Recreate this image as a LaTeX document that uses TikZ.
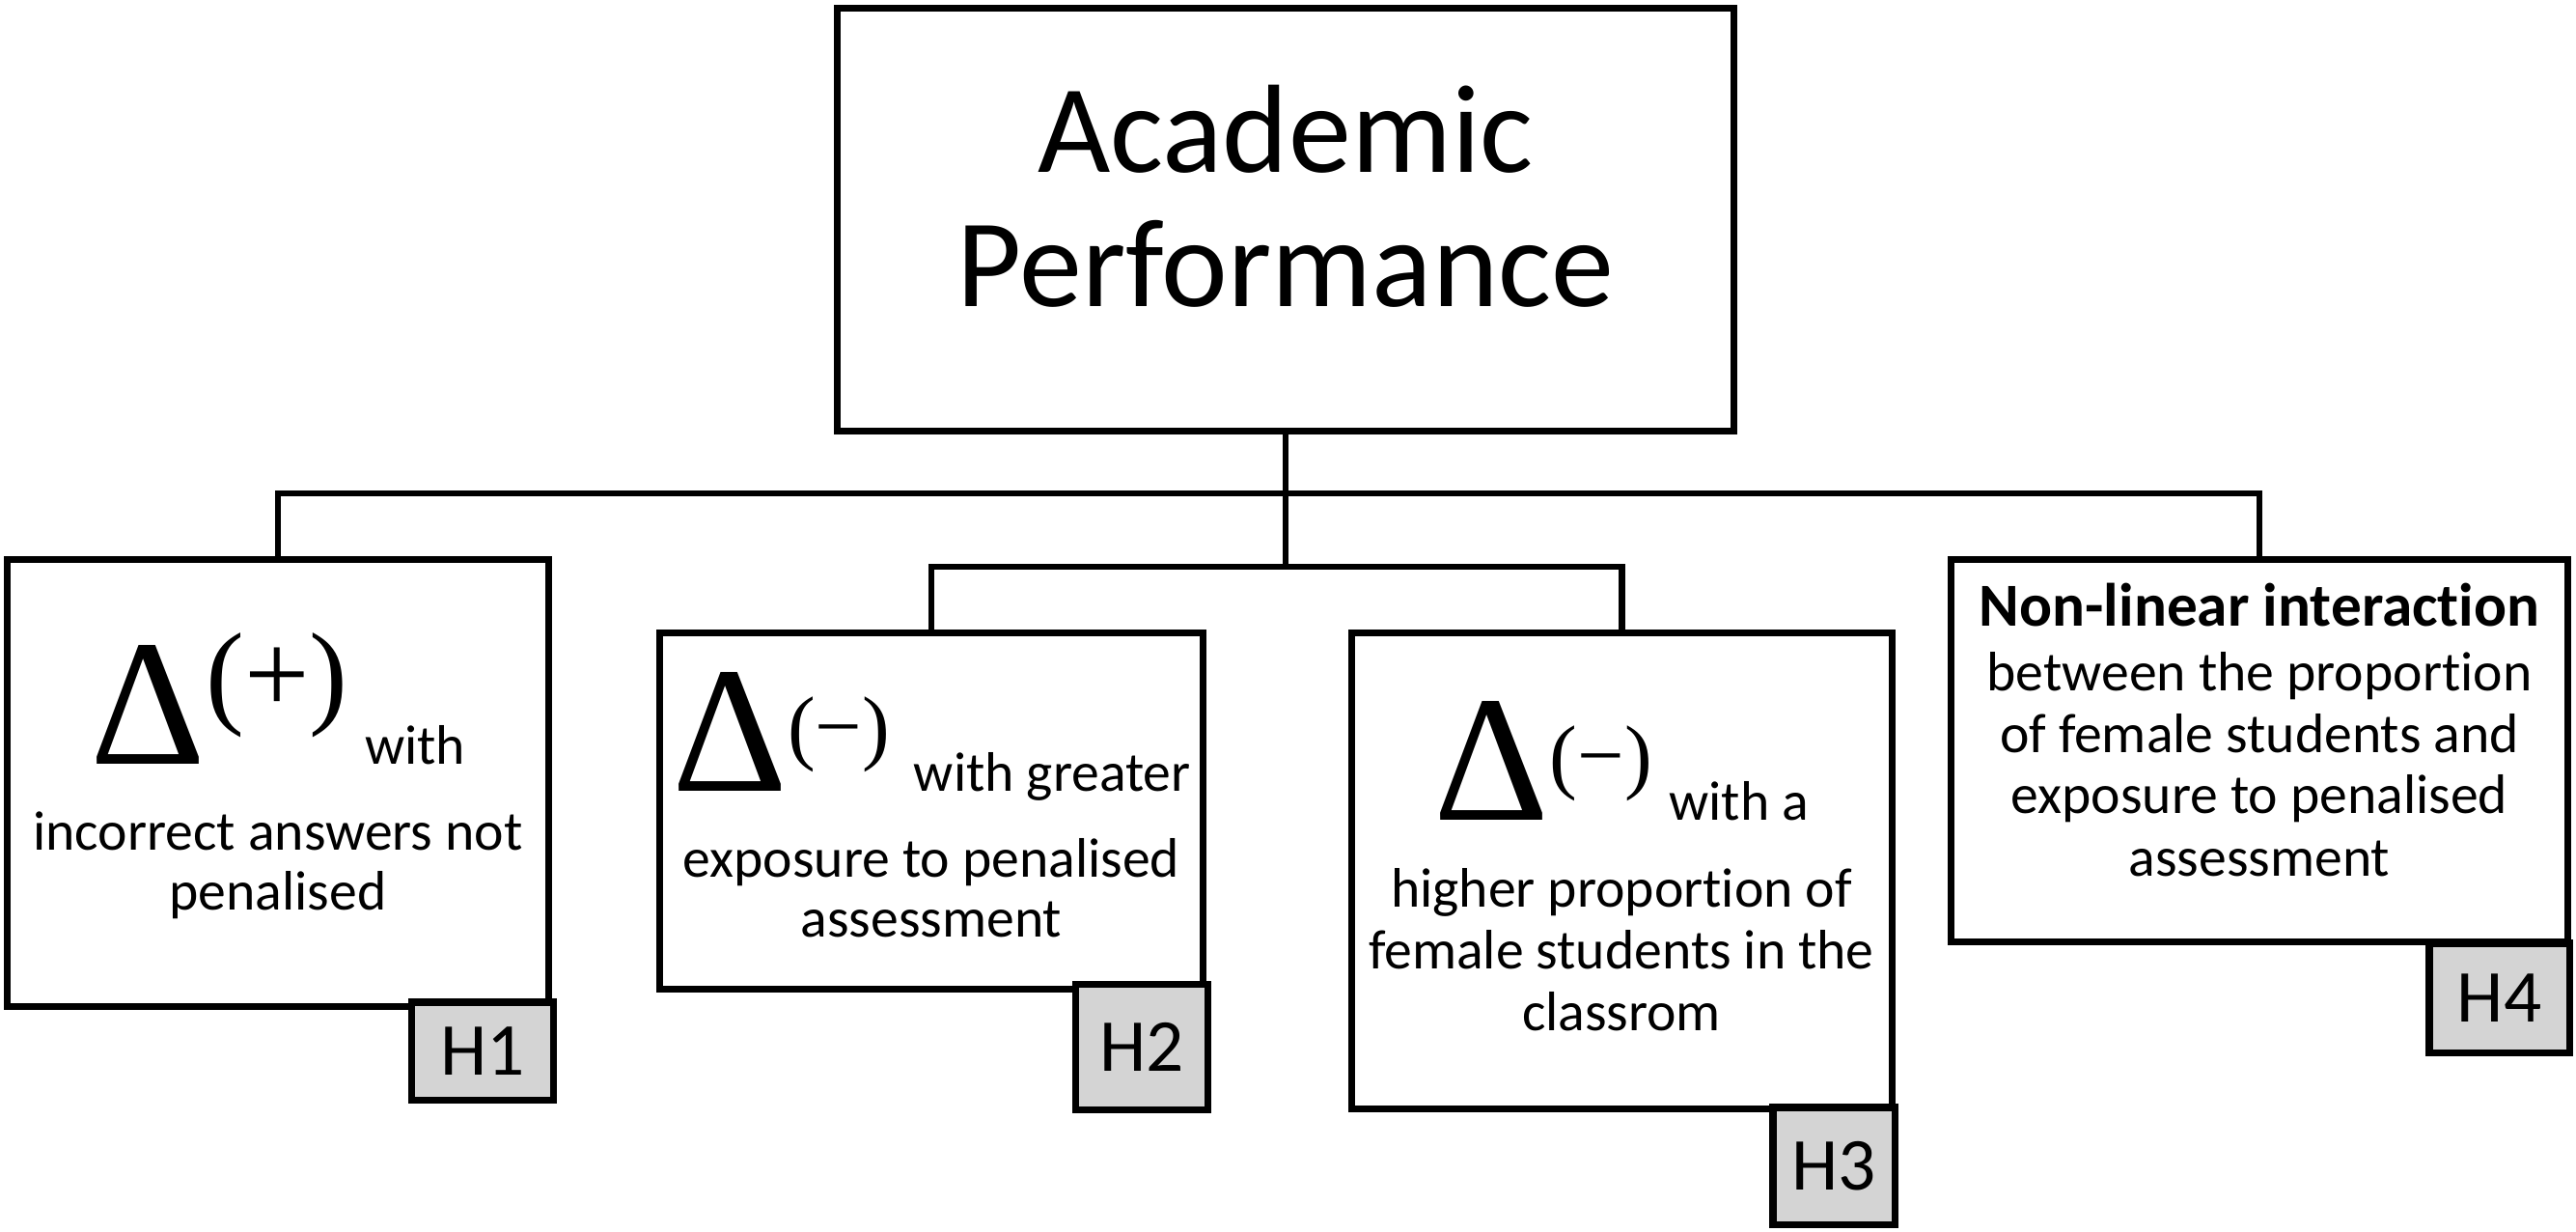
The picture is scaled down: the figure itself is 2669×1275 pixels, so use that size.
\documentclass[tikz,border=0pt]{standalone}
\usepackage{fontspec}
\setmainfont{Carlito}[Ligatures={NoCommon}]
\newfontfamily\deltafont{Liberation Serif}
\definecolor{taggray}{RGB}{212,212,212}
\newcommand\bigD{{\deltafont\fontsize{53}{53}\selectfont Δ}}
\newcommand\supA[1]{\raisebox{15pt}{\deltafont\fontsize{34}{34}\selectfont (#1)}}
\newcommand\supB[1]{\raisebox{10.8pt}{\deltafont\fontsize{24.5}{24.5}\selectfont (#1)}}
\begin{document}
\begin{tikzpicture}[x=0.01cm,y=-0.01cm,
  box/.style={draw=black, line width=2pt, fill=white, inner sep=0pt},
  tagbox/.style={draw=black, line width=2pt, fill=taggray, inner sep=0pt, font=\fontsize{22}{24}\selectfont},
  conn/.style={line width=1.9pt},
  body/.style={anchor=base, inner sep=0pt, font=\fontsize{16.4}{18}\selectfont},
  headtxt/.style={anchor=base, inner sep=0pt, font=\fontsize{37}{40}\selectfont},
  boldtxt/.style={anchor=base, inner sep=0pt, font=\fontsize{18}{20}\selectfont\bfseries}]
\useasboundingbox (0,0) rectangle (2669,1275);
\fill[white] (0,0) rectangle (2669,1275);

% boxes
\node[box, minimum width=9.28cm, minimum height=4.37cm] (top) at (1332,227.5) {};
\node[box, minimum width=5.60cm, minimum height=4.62cm] (h1) at (288,811) {};
\node[box, minimum width=5.62cm, minimum height=3.68cm] (h2) at (965,840) {};
\node[box, minimum width=5.59cm, minimum height=4.92cm] (h3) at (1680.5,902) {};
\node[box, minimum width=6.38cm, minimum height=3.95cm] (h4) at (2341,777.5) {};

% connectors
\coordinate (ub) at (0,511);
\coordinate (lb) at (0,587);
\draw[conn] (top.south) -- (top.south |- lb);
\draw[conn] (h1.north) -- (h1.north |- ub) -- (h4.north |- ub) -- (h4.north);
\draw[conn] (h2.north) -- (h2.north |- lb) -- (h3.north |- lb) -- (h3.north);

% tags
\node[tagbox, minimum width=1.46cm, minimum height=1.01cm] (t1) at (500,1088.5) {H1};
\node[tagbox, minimum width=1.36cm, minimum height=1.29cm] (t2) at (1183,1084.5) {H2};
\node[tagbox, minimum width=1.26cm, minimum height=1.21cm] (t3) at (1900,1207.5) {H3};
\node[tagbox, minimum width=1.45cm, minimum height=1.13cm] (t4) at (2589.5,1033.5) {H4};

% top text
\node[headtxt] (ta) at (1332,178) {Academic};
\node[headtxt] (tb) at (1332,317) {Performance};

% H1 text
\node[body] (h1a) at (288,791) {\bigD\supA{+}\hspace{5pt}with};
\node[body] (h1b) at (288,880) {incorrect answers not};
\node[body] (h1c) at (288,942) {penalised};

% H2 text
\node[body] (h2a) at (965,819) {\bigD\supB{−}\hspace{7pt}with greater};
\node[body] (h2b) at (965,908) {exposure to penalised};
\node[body] (h2c) at (965,970) {assessment};

% H3 text
\node[body] (h3a) at (1680,849) {\bigD\supB{−}\hspace{5pt}with a};
\node[body] (h3b) at (1680,939) {higher proportion of};
\node[body] (h3c) at (1680,1003) {female students in the};
\node[body] (h3d) at (1680,1067) {classrom};

% H4 text
\node[boldtxt] (h4a) at (2341,648) {Non-linear interaction};
\node[body] (h4b) at (2341,715) {between the proportion};
\node[body] (h4c) at (2341,779) {of female students and};
\node[body] (h4d) at (2341,842) {exposure to penalised};
\node[body] (h4e) at (2341,907) {assessment};
\end{tikzpicture}
\end{document}
